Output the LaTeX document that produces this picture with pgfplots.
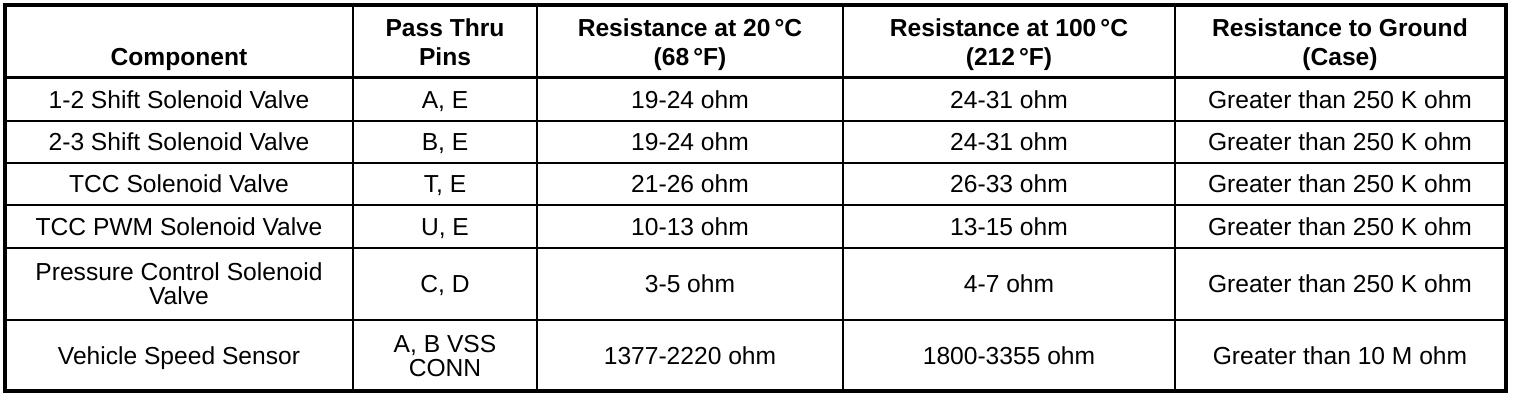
\documentclass[border=0pt]{standalone}
\usepackage{fontspec}
\setmainfont{Liberation Sans}
\usepackage{pgfplots}
\pgfplotsset{compat=1.18}

\tikzset{cell/.style={anchor=base, inner sep=0pt, font=\fontsize{12.3bp}{14bp}\selectfont}}

\begin{document}
\begin{tikzpicture}
\begin{axis}[
    width=760bp, height=200bp, scale only axis,
    xmin=0, xmax=1520, ymin=0, ymax=400, y dir=reverse,
    hide axis, clip=false,
]
% outer frame
\addplot[black, line width=2bp, line join=miter, mark=none] coordinates {
    (700,5) (1506,5) (1506,391) (5,391) (5,5) (700,5)
};
% column rules
\addplot[black, line width=1bp, mark=none] coordinates {(353,5) (353,391)};
\addplot[black, line width=1bp, mark=none] coordinates {(537,5) (537,391)};
\addplot[black, line width=1bp, mark=none] coordinates {(843,5) (843,391)};
\addplot[black, line width=1bp, mark=none] coordinates {(1175,5) (1175,391)};
% row rules
\addplot[black, line width=1.5bp, mark=none] coordinates {(5,78) (1506,78)};
\addplot[black, line width=0.6bp, mark=none] coordinates {(5,121) (1506,121)};
\addplot[black, line width=1bp, mark=none] coordinates {(5,163) (1506,163)};
\addplot[black, line width=1bp, mark=none] coordinates {(5,205) (1506,205)};
\addplot[black, line width=1bp, mark=none] coordinates {(5,248) (1506,248)};
\addplot[black, line width=1bp, mark=none] coordinates {(5,320) (1506,320)};

% header
\node[cell] at (axis cs:179,66) {\bfseries Component};
\node[cell] at (axis cs:445,37) {\bfseries Pass Thru};
\node[cell] at (axis cs:445,66) {\bfseries Pins};
\node[cell] at (axis cs:690,37) {\bfseries Resistance at 20\,°C};
\node[cell] at (axis cs:690,66) {\bfseries (68\,°F)};
\node[cell] at (axis cs:1009,37) {\bfseries Resistance at 100\,°C};
\node[cell] at (axis cs:1009,66) {\bfseries (212\,°F)};
\node[cell] at (axis cs:1340,37) {\bfseries Resistance to Ground};
\node[cell] at (axis cs:1340,66) {\bfseries (Case)};

% row 1
\node[cell] at (axis cs:179,108.5) {1-2 Shift Solenoid Valve};
\node[cell] at (axis cs:445,108.5) {A, E};
\node[cell] at (axis cs:690,108.5) {19-24 ohm};
\node[cell] at (axis cs:1009,108.5) {24-31 ohm};
\node[cell] at (axis cs:1340,108.5) {Greater than 250 K ohm};
% row 2
\node[cell] at (axis cs:179,151) {2-3 Shift Solenoid Valve};
\node[cell] at (axis cs:445,151) {B, E};
\node[cell] at (axis cs:690,151) {19-24 ohm};
\node[cell] at (axis cs:1009,151) {24-31 ohm};
\node[cell] at (axis cs:1340,151) {Greater than 250 K ohm};
% row 3
\node[cell] at (axis cs:179,193) {TCC Solenoid Valve};
\node[cell] at (axis cs:445,193) {T, E};
\node[cell] at (axis cs:690,193) {21-26 ohm};
\node[cell] at (axis cs:1009,193) {26-33 ohm};
\node[cell] at (axis cs:1340,193) {Greater than 250 K ohm};
% row 4
\node[cell] at (axis cs:179,235.5) {TCC PWM Solenoid Valve};
\node[cell] at (axis cs:445,235.5) {U, E};
\node[cell] at (axis cs:690,235.5) {10-13 ohm};
\node[cell] at (axis cs:1009,235.5) {13-15 ohm};
\node[cell] at (axis cs:1340,235.5) {Greater than 250 K ohm};
% row 5
\node[cell] at (axis cs:179,281) {Pressure Control Solenoid};
\node[cell] at (axis cs:179,305) {Valve};
\node[cell] at (axis cs:445,293) {C, D};
\node[cell] at (axis cs:690,293) {3-5 ohm};
\node[cell] at (axis cs:1009,293) {4-7 ohm};
\node[cell] at (axis cs:1340,293) {Greater than 250 K ohm};
% row 6
\node[cell] at (axis cs:179,364.5) {Vehicle Speed Sensor};
\node[cell] at (axis cs:445,352.5) {A, B VSS};
\node[cell] at (axis cs:445,376.5) {CONN};
\node[cell] at (axis cs:690,364.5) {1377-2220 ohm};
\node[cell] at (axis cs:1009,364.5) {1800-3355 ohm};
\node[cell] at (axis cs:1340,364.5) {Greater than 10 M ohm};
\end{axis}
\pgfresetboundingbox
\path (current axis.south west) rectangle (current axis.north east);
\end{tikzpicture}
\end{document}
